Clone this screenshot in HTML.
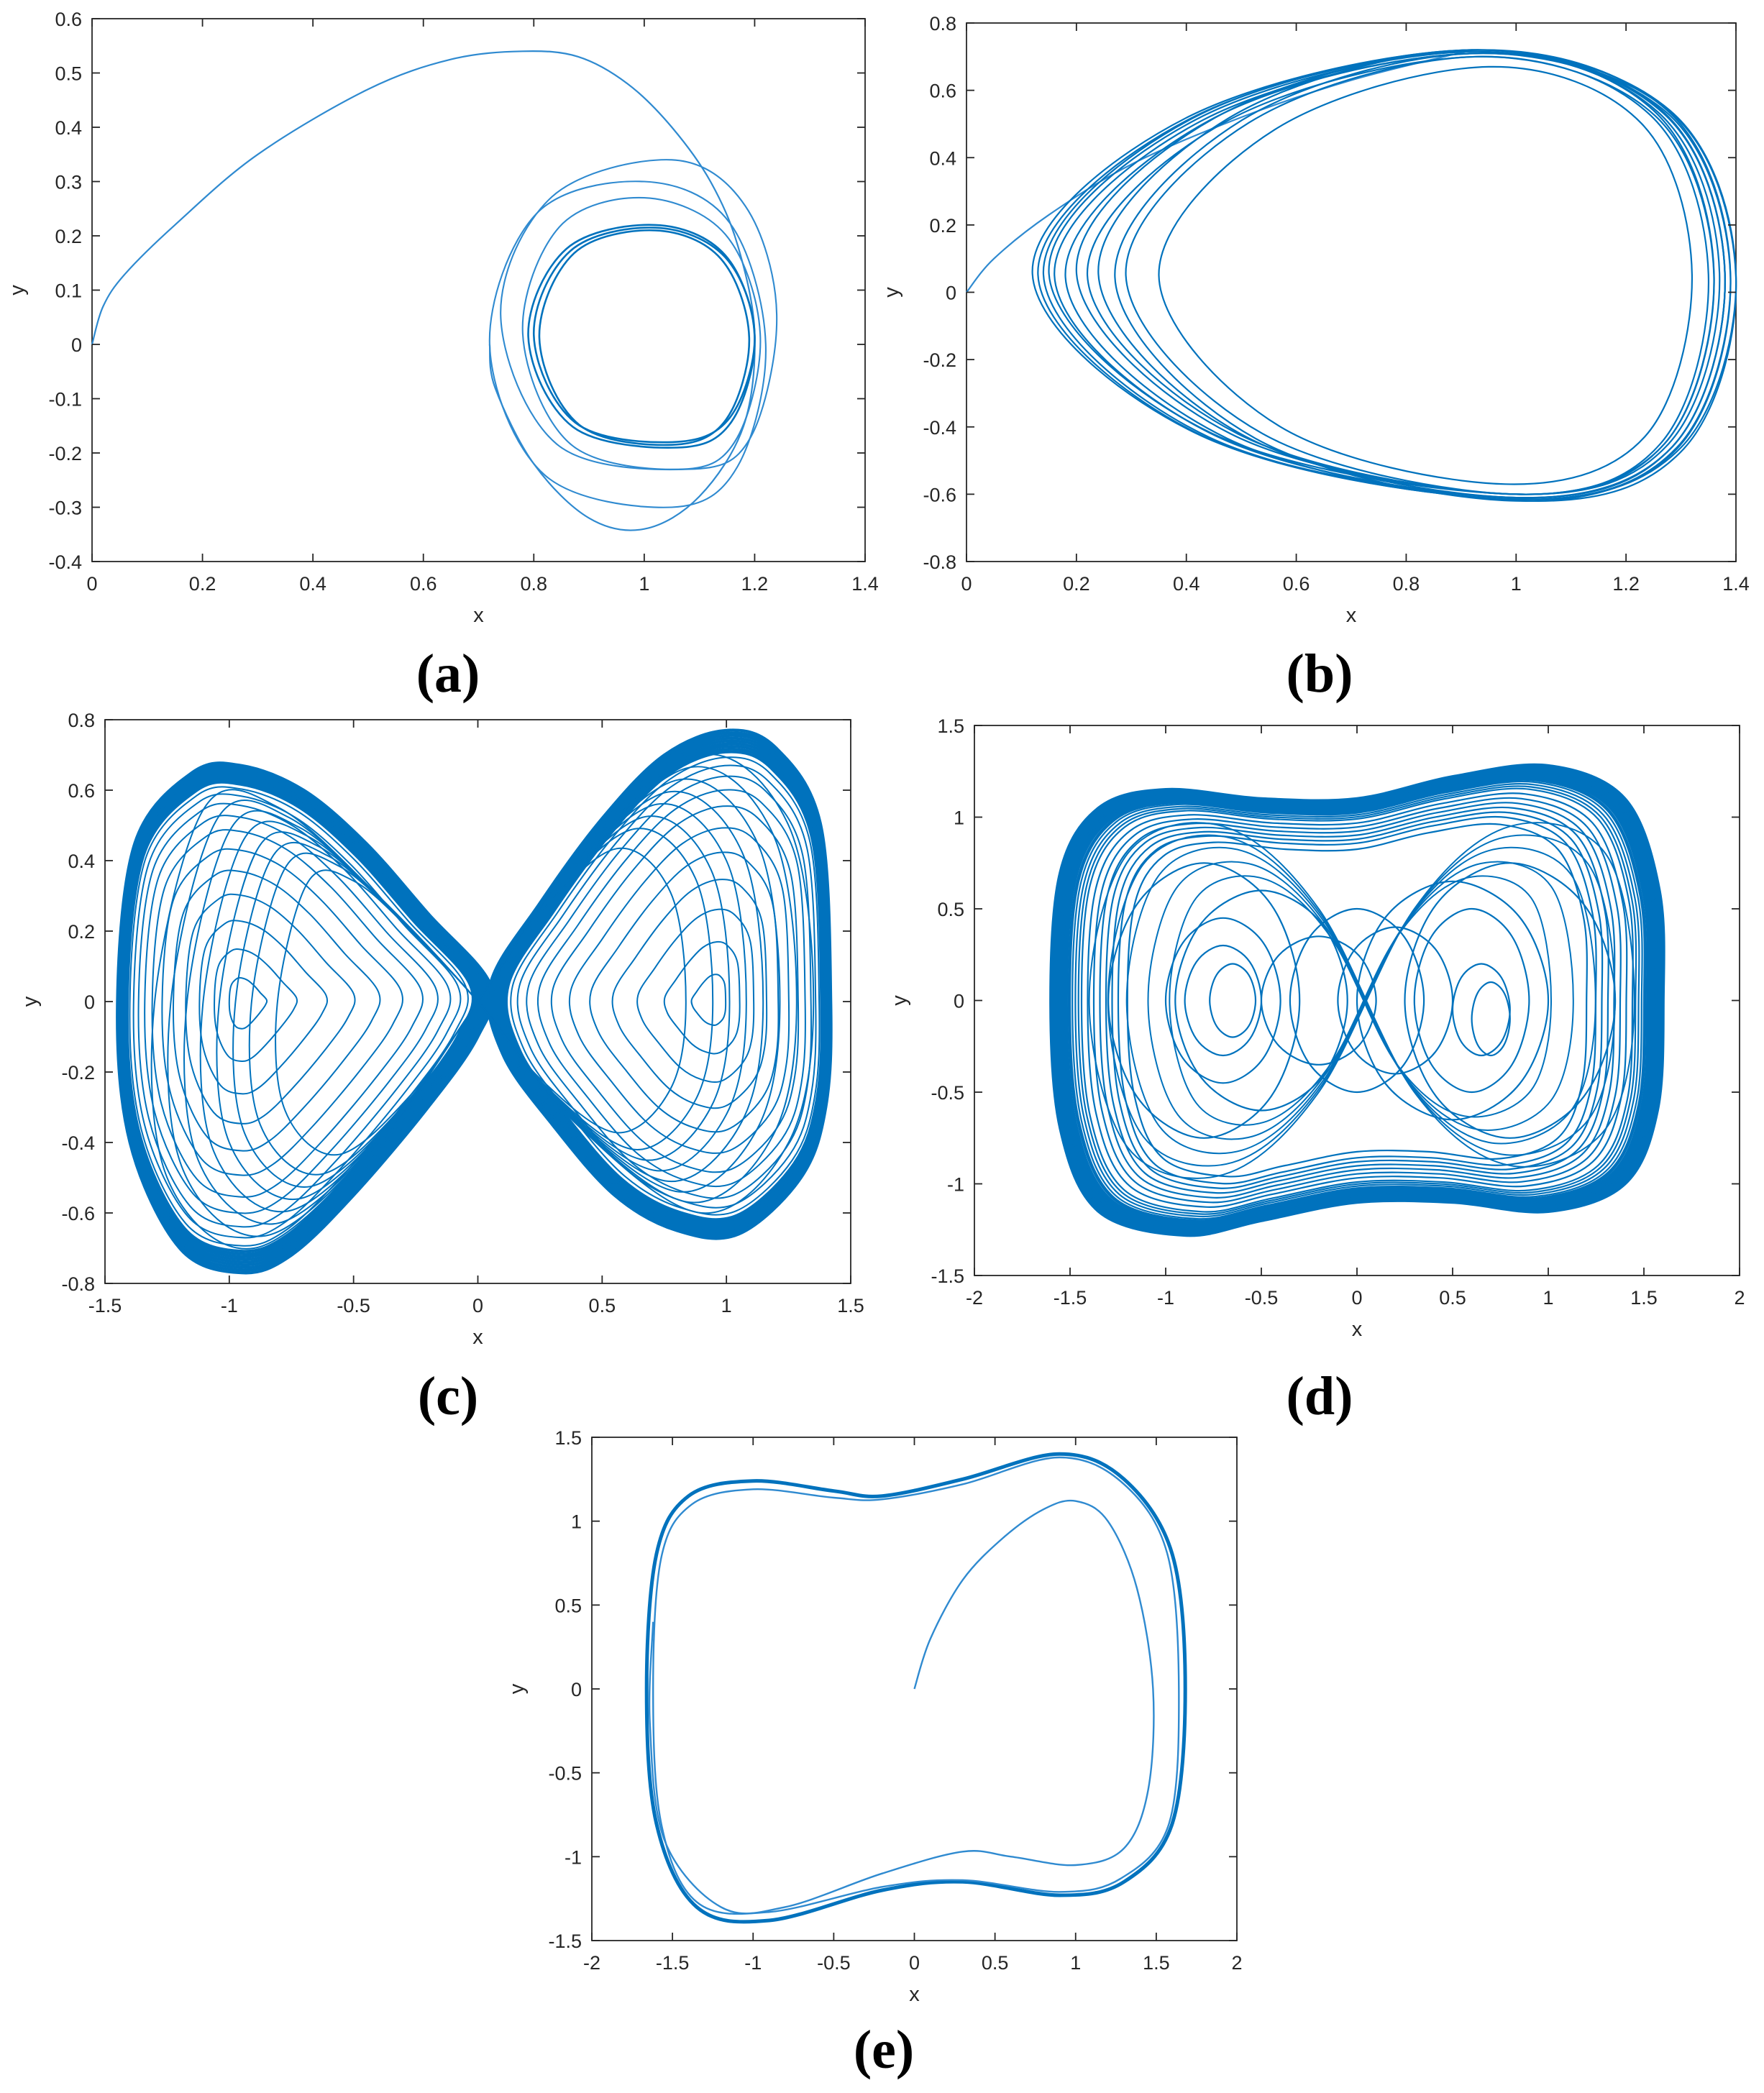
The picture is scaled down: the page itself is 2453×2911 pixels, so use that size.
<!DOCTYPE html>
<html><head><meta charset="utf-8">
<style>
html,body{margin:0;padding:0;background:#fff;}
svg{display:block;}
text{font-family:"Liberation Sans",sans-serif;fill:#262626;}
.lbl{font-family:"Liberation Serif",serif;font-size:76px;font-weight:bold;fill:#000;}
</style></head>
<body>
<svg id="fig" width="2453" height="2911" viewBox="0 0 2453 2911" xmlns="http://www.w3.org/2000/svg"></svg>
<script>
// ---------- data ----------
const aTransient=[[0,0],[0.02,0.07],[0.06,0.13],[0.15,0.22],[0.3,0.35],[0.5,0.47],[0.65,0.525],[0.78,0.54],[0.88,0.53],[0.97,0.48],[1.05,0.4],[1.12,0.3],[1.17,0.18],[1.2,0.02],[1.18,-0.15],[1.1,-0.28],[1.0,-0.34],[0.9,-0.32],[0.8,-0.22],[0.73,-0.08],[0.72,0.0]];
const aLoops=[[0.8,0.215,1.2,-0.18,1.02,1.05],[0.81,0.21,1.19,-0.185,1.02,1.05],[0.79,0.22,1.2,-0.19,1.02,1.06],[0.72,0.3,1.22,-0.3,1.0,1.05],[0.74,0.34,1.24,-0.23,1.05,1.08],[0.78,0.27,1.21,-0.23,1.0,1.07]];
const bLoops=[[0.12,0.72,1.38,-0.61,0.92,1.0],[0.13,0.72,1.39,-0.615,0.93,1.0],[0.15,0.715,1.37,-0.6,0.92,1.0],[0.18,0.71,1.4,-0.62,0.93,1.02],[0.2,0.72,1.36,-0.6,0.92,1.0],[0.22,0.7,1.35,-0.6,0.93,1.0],[0.24,0.72,1.38,-0.61,0.92,1.0],[0.27,0.71,1.39,-0.62,0.93,1.0],[0.29,0.7,1.36,-0.6,0.93,1.0],[0.35,0.67,1.32,-0.57,0.95,0.98],[0.14,0.72,1.4,-0.615,0.92,1.0],[0.16,0.71,1.38,-0.61,0.93,1.0]];
const bTransient=[[0,0],[0.05,0.1],[0.15,0.23],[0.3,0.38],[0.5,0.52],[0.7,0.63],[0.92,0.72]];
const cLeft=[[-1.45,0],[-1.38,0.45],[-1.15,0.65],[-0.95,0.67],[-0.7,0.6],[-0.45,0.45],[-0.2,0.25],[0.05,0.05],[0.0,-0.1],[-0.2,-0.3],[-0.5,-0.55],[-0.75,-0.72],[-0.95,-0.77],[-1.2,-0.7],[-1.4,-0.4]];
const cRight=[[1.42,0],[1.38,0.5],[1.2,0.72],[1.0,0.77],[0.75,0.7],[0.5,0.52],[0.25,0.28],[0.05,0.05],[0.1,-0.15],[0.3,-0.35],[0.55,-0.55],[0.8,-0.65],[1.05,-0.66],[1.3,-0.5],[1.4,-0.3]];
const cLeftCenter=[-0.95,0], cRightCenter=[0.95,0];
const cScales=[1,0.99,0.98,0.97,0.96,0.95,0.94,0.93,0.92,0.9,0.87,0.83,0.78,0.72,0.64,0.55,0.45,0.34,0.22,0.1];
const cEight=[[-1.3,0],[-1.1,0.55],[-0.8,0.55],[-0.4,0.3],[0,0],[0.4,-0.35],[0.9,-0.6],[1.25,-0.4],[1.35,0],[1.25,0.5],[0.9,0.7],[0.4,0.4],[0,0],[-0.4,-0.4],[-0.9,-0.7],[-1.25,-0.5]];
const cEightScales=[1,0.95,0.9,0.85,0.8,0.75,0.7,0.62];
const dBase=[[-1.6,0],[-1.55,0.7],[-1.35,1.05],[-1,1.15],[-0.5,1.1],[0,1.1],[0.5,1.22],[1.0,1.28],[1.4,1.1],[1.58,0.6],[1.6,0],[1.57,-0.6],[1.4,-1.0],[1.0,-1.15],[0.5,-1.1],[0,-1.1],[-0.5,-1.2],[-0.9,-1.28],[-1.35,-1.15],[-1.55,-0.7]];
const dScales=[1,0.995,0.99,0.985,0.98,0.975,0.97,0.965,0.96,0.955,0.95,0.94,0.93,0.92,0.91,0.9,0.88,0.86,0.84,0.82,0.8,0.78,0.75];
const dSpirals=[[-0.7,0,0.3,0.45],[-0.7,0,0.2,0.3],[-0.65,0,0.12,0.2],[-0.5,0,0.45,0.6],[0.6,0,0.3,0.5],[0.65,-0.05,0.15,0.25],[0.5,0,0.5,0.65],[0,0,0.35,0.5],[-0.2,0,0.3,0.35],[0.2,0,0.3,0.4],[0.7,-0.1,0.1,0.2],[-0.8,0,0.5,0.75],[0.8,0,0.55,0.75]];
const dEight=[[-1.4,0],[-1.2,0.8],[-0.7,0.95],[-0.2,0.5],[0.3,-0.5],[0.8,-0.9],[1.3,-0.7],[1.45,0],[1.3,0.8],[0.8,0.95],[0.3,0.5],[-0.2,-0.5],[-0.7,-0.95],[-1.2,-0.8]];
const dEightScales=[1,0.93,0.86,0.78,0.7];
const eOuter=[[-1.66,0],[-1.6,0.8],[-1.4,1.15],[-1,1.24],[-0.5,1.18],[-0.2,1.15],[0.3,1.25],[0.9,1.4],[1.3,1.25],[1.6,0.8],[1.68,0],[1.6,-0.8],[1.3,-1.15],[0.9,-1.23],[0.3,-1.15],[-0.2,-1.2],[-0.9,-1.38],[-1.35,-1.3],[-1.6,-0.8]];
const eInner=[[-1.62,0],[-1.57,0.78],[-1.38,1.1],[-1,1.19],[-0.5,1.14],[-0.2,1.13],[0.3,1.22],[0.9,1.38],[1.3,1.22],[1.57,0.8],[1.64,0],[1.58,-0.8],[1.28,-1.13],[0.9,-1.21],[0.3,-1.14],[-0.2,-1.18],[-0.9,-1.33],[-1.35,-1.27],[-1.57,-0.8]];
const eTransient=[[0,0],[0.1,0.3],[0.3,0.65],[0.55,0.9],[0.8,1.07],[1.0,1.12],[1.2,1.0],[1.38,0.6],[1.48,0],[1.45,-0.6],[1.3,-0.95],[1.0,-1.05],[0.6,-1.0],[0.3,-0.97],[-0.2,-1.1],[-0.8,-1.3],[-1.2,-1.3],[-1.55,-0.9],[-1.64,-0.2],[-1.62,0.4]];

// ---------- helpers ----------
const NS='http://www.w3.org/2000/svg';
const fig=document.getElementById('fig');
const BLUE='#0072BD', LIGHT='#2f8ad0';
function mk(tag,attrs,parent){const e=document.createElementNS(NS,tag);for(const k in attrs)e.setAttribute(k,attrs[k]);(parent||fig).appendChild(e);return e;}
function fmt(v){return (Math.round(v*100)/100).toString();}
function panel(name,box,xr,yr,xt,yt){
  const g=mk('g',{});
  
  
  const [x0,y0,x1,y1]=box;
  const sx=v=>x0+(v-xr[0])/(xr[1]-xr[0])*(x1-x0);
  const sy=v=>y1-(v-yr[0])/(yr[1]-yr[0])*(y1-y0);
  const frame=mk('rect',{x:x0,y:y0,width:x1-x0,height:y1-y0,fill:'none',stroke:'#262626','stroke-width':1.8},g);
  
  
  const plot=mk('g',{},g);
  
  
  xt.forEach(v=>{const X=sx(v);
    mk('line',{x1:X,y1:y1,x2:X,y2:y1-11,stroke:'#262626','stroke-width':1.8},g);
    mk('line',{x1:X,y1:y0,x2:X,y2:y0+11,stroke:'#262626','stroke-width':1.8},g);
    const t=mk('text',{x:X,y:y1+40,'font-size':27,'text-anchor':'middle'},g);t.textContent=fmt(v);
    
    });
  yt.forEach(v=>{const Y=sy(v);
    mk('line',{x1:x0,y1:Y,x2:x0+11,y2:Y,stroke:'#262626','stroke-width':1.8},g);
    mk('line',{x1:x1,y1:Y,x2:x1-11,y2:Y,stroke:'#262626','stroke-width':1.8},g);
    const t=mk('text',{x:x0-14,y:Y+10,'font-size':27,'text-anchor':'end'},g);t.textContent=fmt(v);
    
    });
  const xl=mk('text',{x:(x0+x1)/2,y:y1+84,'font-size':29,'text-anchor':'middle'},g);xl.textContent='x';
  
  
  const yx=x0-95,yy=(y0+y1)/2;
  const yl=mk('text',{x:yx,y:yy,'font-size':29,'text-anchor':'middle',transform:`rotate(-90 ${yx} ${yy})`},g);yl.textContent='y';
  
  
  return {sx,sy,plot};
}
function spline(pts,closed){
  const n=pts.length;let d=`M${pts[0][0].toFixed(1)},${pts[0][1].toFixed(1)}`;
  const P=i=>closed?pts[(i+n)%n]:pts[Math.max(0,Math.min(n-1,i))];
  const segs=closed?n:n-1;
  for(let i=0;i<segs;i++){const p0=P(i-1),p1=P(i),p2=P(i+1),p3=P(i+2);
    const c1=[p1[0]+(p2[0]-p0[0])/6,p1[1]+(p2[1]-p0[1])/6];
    const c2=[p2[0]-(p3[0]-p1[0])/6,p2[1]-(p3[1]-p1[1])/6];
    d+=`C${c1[0].toFixed(1)},${c1[1].toFixed(1)} ${c2[0].toFixed(1)},${c2[1].toFixed(1)} ${p2[0].toFixed(1)},${p2[1].toFixed(1)}`;}
  return closed?d+'Z':d;
}
function drawPts(P,pts,closed,w,col){
  const p=mk('path',{d:spline(pts.map(q=>[P.sx(q[0]),P.sy(q[1])]),closed),fill:'none',stroke:col||LIGHT,'stroke-width':w||2.2},P.plot);
  
  
}
function loopPts(l,tear){
  const [xa,yt,xb,yb,xtp,xbt]=l;const yc=(yt+yb)/2;
  if(tear){return [[xa,yc],[xa+(xtp-xa)*0.35,yt*0.72],[xtp,yt],[xb-(xb-xtp)*0.25,yt*0.75],[xb,yc],[xb-(xb-xbt)*0.25,yb*0.75],[xbt,yb],[xa+(xbt-xa)*0.35,yb*0.7]];}
  return [[xa,yc],[xa+(xtp-xa)*0.3,yt*0.8],[xtp,yt],[xb-(xb-xtp)*0.3,yt*0.75],[xb,yc],[xb-(xb-xbt)*0.3,yb*0.75],[xbt,yb],[xa+(xbt-xa)*0.3,yb*0.8]];
}
function scaled(base,c,s){return base.map(p=>[c[0]+(p[0]-c[0])*s,c[1]+(p[1]-c[1])*s]);}
function ellipse(cx,cy,rx,ry){return [[cx-rx,cy],[cx-rx*0.7,cy+ry*0.7],[cx,cy+ry],[cx+rx*0.7,cy+ry*0.7],[cx+rx,cy],[cx+rx*0.7,cy-ry*0.7],[cx,cy-ry],[cx-rx*0.7,cy-ry*0.7]];}
function tick(a,b,s){const r=[];for(let v=a;v<=b+1e-9;v+=s)r.push(Math.round(v*100)/100);return r;}
function label(txt,x,y,name){const t=mk('text',{x:x,y:y,'text-anchor':'middle',class:'lbl'});t.textContent=txt;
  
  }

// (a)
const A=panel('panel-a',[128,26,1203,781],[0,1.4],[-0.4,0.6],tick(0,1.4,0.2),tick(-0.4,0.6,0.1));
drawPts(A,aTransient,false,2.2);
aLoops.forEach((l,i)=>drawPts(A,loopPts(l,false),true,i<3?2.6:2.1,i<3?BLUE:LIGHT));
label('(a)',623,962,'panel-label-a');

// (b)
const B=panel('panel-b',[1344,32,2414,781],[0,1.4],[-0.8,0.8],tick(0,1.4,0.2),tick(-0.8,0.8,0.2));
drawPts(B,bTransient,false,2.2);
bLoops.forEach(l=>drawPts(B,loopPts(l,true),true,2.2,BLUE));
label('(b)',1835,962,'panel-label-b');

// (c)
const C=panel('panel-c',[146,1001,1183,1785],[-1.5,1.5],[-0.8,0.8],tick(-1.5,1.5,0.5),tick(-0.8,0.8,0.2));
cScales.forEach((s,i)=>{drawPts(C,scaled(cLeft,cLeftCenter,s),true,i<9?4:2,BLUE);drawPts(C,scaled(cRight,cRightCenter,s),true,i<9?4:2,BLUE);});
cEightScales.forEach(s=>drawPts(C,scaled(cEight,[0,0],s),true,2,BLUE));
label('(c)',623,1967,'panel-label-c');

// (d)
const D=panel('panel-d',[1355,1009,2419,1774],[-2,2],[-1.5,1.5],tick(-2,2,0.5),tick(-1.5,1.5,0.5));
dScales.forEach((s,i)=>drawPts(D,scaled(dBase,[0,0],s),true,i<12?4.5:2.2,BLUE));
dSpirals.forEach(e=>drawPts(D,ellipse(e[0],e[1],e[2],e[3]),true,2.2,BLUE));
dEightScales.forEach(s=>drawPts(D,scaled(dEight,[0,0],s),true,2,BLUE));
label('(d)',1835,1967,'panel-label-d');

// (e)
const E=panel('panel-e',[823,1999,1720,2699],[-2,2],[-1.5,1.5],tick(-2,2,0.5),tick(-1.5,1.5,0.5));
drawPts(E,eOuter,true,5,BLUE);
drawPts(E,eInner,true,2.4,LIGHT);
drawPts(E,eTransient,false,2.4,LIGHT);
label('(e)',1229,2876,'panel-label-e');
</script>
</body></html>
